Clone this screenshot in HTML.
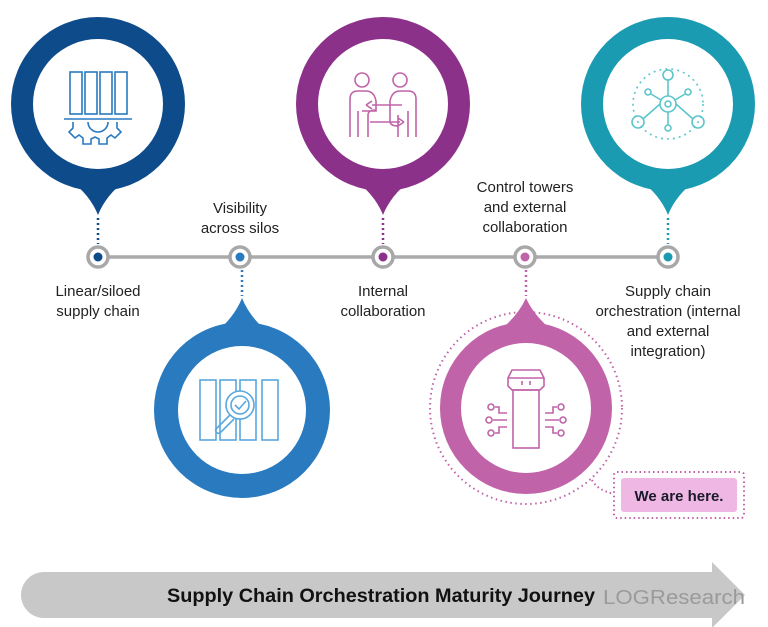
<!DOCTYPE html>
<html><head><meta charset="utf-8"><style>
html,body{margin:0;padding:0;background:#fff;}
svg{display:block;}
text{font-family:"Liberation Sans",sans-serif;}
</style></head><body>
<svg width="768" height="627" viewBox="0 0 768 627" xmlns="http://www.w3.org/2000/svg">

<!-- Pins top -->
<g fill="#0e4b8b"><circle cx="98" cy="104" r="87"/><path d="M70,180 Q90,195 98,215 Q106,195 126,180 Z"/></g>
<circle cx="98" cy="104" r="65" fill="#fff"/>
<g fill="#8c3189"><circle cx="383" cy="104" r="87"/><path d="M355,180 Q375,195 383,215 Q391,195 411,180 Z"/></g>
<circle cx="383" cy="104" r="65" fill="#fff"/>
<g fill="#1a9bb1"><circle cx="668" cy="104" r="87"/><path d="M640,180 Q660,195 668,215 Q676,195 696,180 Z"/></g>
<circle cx="668" cy="104" r="65" fill="#fff"/>

<!-- Pins bottom -->
<g fill="#2a7ac0"><circle cx="242" cy="410" r="88"/><path d="M214,334 Q234,318 242,298 Q250,318 270,334 Z"/></g>
<circle cx="242" cy="410" r="64" fill="#fff"/>
<circle cx="526" cy="408" r="96" fill="none" stroke="#c063a8" stroke-width="2" stroke-dasharray="1.5 3.5"/>
<g fill="#c063a8"><circle cx="526" cy="408" r="86"/><path d="M498,332 Q518,316 526,298 Q534,316 554,332 Z"/></g>
<circle cx="526" cy="408" r="65" fill="#fff"/>

<!-- dotted connectors -->
<g stroke-width="2.5" stroke-dasharray="2 3" fill="none">
<line x1="98" y1="218" x2="98" y2="244" stroke="#0e4b8b"/>
<line x1="383" y1="218" x2="383" y2="244" stroke="#8c3189"/>
<line x1="668" y1="218" x2="668" y2="244" stroke="#1a9bb1"/>
<line x1="242" y1="270" x2="242" y2="296" stroke="#2a7ac0"/>
<line x1="526" y1="270" x2="526" y2="296" stroke="#c063a8"/>
</g>

<!-- timeline -->
<line x1="98" y1="257" x2="668" y2="257" stroke="#aaa" stroke-width="3.5"/>
<g fill="#fff" stroke="#a8a8a8" stroke-width="3.5">
<circle cx="98" cy="257" r="10"/><circle cx="240" cy="257" r="10"/><circle cx="383" cy="257" r="10"/><circle cx="525" cy="257" r="10"/><circle cx="668" cy="257" r="10"/>
</g>
<circle cx="98" cy="257" r="4.5" fill="#0e4b8b"/>
<circle cx="240" cy="257" r="4.5" fill="#2a7ac0"/>
<circle cx="383" cy="257" r="4.5" fill="#8c3189"/>
<circle cx="525" cy="257" r="4.5" fill="#c063a8"/>
<circle cx="668" cy="257" r="4.5" fill="#1a9bb1"/>

<!-- labels -->
<g font-size="15" fill="#222" text-anchor="middle">
<text x="98" y="296">Linear/siloed</text><text x="98" y="316">supply chain</text>
<text x="240" y="213">Visibility</text><text x="240" y="233">across silos</text>
<text x="383" y="296">Internal</text><text x="383" y="316">collaboration</text>
<text x="525" y="192">Control towers</text><text x="525" y="212">and external</text><text x="525" y="232">collaboration</text>
<text x="668" y="296">Supply chain</text><text x="668" y="316">orchestration (internal</text><text x="668" y="336">and external</text><text x="668" y="356">integration)</text>
</g>

<!-- icon 1 -->
<g stroke="#2a7ac0" stroke-width="1.6" fill="none">
<rect x="70" y="72" width="12" height="42"/><rect x="85" y="72" width="12" height="42"/><rect x="100" y="72" width="12" height="42"/><rect x="115" y="72" width="12" height="42"/>
<line x1="64" y1="119" x2="132" y2="119"/>
<path d="M73,122 v6 l-4,4 l6,6 l4,-3 l4,3 v6 h8 v-5 l4,-2 l4,2 v5 h8 v-6 l4,-3 l4,3 l6,-6 l-4,-4 v-6"/>
<path d="M88,122 a10,10 0 0 0 20,0"/>
</g>
<!-- icon 2 people -->
<g stroke="#c063a8" stroke-width="1.6" fill="none">
<circle cx="362" cy="80" r="7"/><circle cx="400" cy="80" r="7"/>
<path d="M350,137 v-38 q0,-8 8,-8 h8 q8,0 10,10 v10 h-14 M358,137 v-26 M368,137 v-22 q0,-5 8,-5"/>
<path d="M416,137 v-38 q0,-8 -8,-8 h-8 q-8,0 -10,10 v20 q0,5 8,5 M408,137 v-26 M398,137 v-22"/>
<path d="M372,105 h30 M366,105 l6,-4 M366,105 l6,4 M400,122 h-30 M404,122 l-6,-4 M404,122 l-6,4"/>
</g>
<!-- icon 3 network -->
<g stroke="#5cc6cc" stroke-width="1.6" fill="none">
<circle cx="668" cy="104" r="35" stroke-dasharray="2 4"/>
<circle cx="668" cy="75" r="5"/><circle cx="668" cy="104" r="8"/><circle cx="668" cy="104" r="3"/>
<circle cx="648" cy="92" r="3"/><circle cx="688" cy="92" r="3"/>
<circle cx="638" cy="122" r="6"/><circle cx="698" cy="122" r="6"/><circle cx="668" cy="128" r="3"/>
<path d="M668,80 v16 M660,104 l-17,15 M676,104 l17,15 M668,112 v13 M651,94 l10,6 M685,94 l-10,6"/>
</g>
<!-- icon 4 silos magnifier -->
<g stroke="#5aa7dd" stroke-width="1.6" fill="none">
<rect x="200" y="380" width="16" height="60"/><rect x="220" y="380" width="16" height="60"/><rect x="240" y="380" width="16" height="60"/><rect x="262" y="380" width="16" height="60"/>
<circle cx="240" cy="405" r="14" fill="#fff"/><circle cx="240" cy="405" r="9"/>
<path d="M235,405 l4,4 l7,-8 M230,415 l-14,14 a3,3 0 0 0 4,4 l14,-14"/>
</g>
<!-- icon 5 tower -->
<g stroke="#c063a8" stroke-width="1.6" fill="none">
<path d="M512,370 h28 l4,8 v8 l-4,4 h-28 l-4,-4 v-8 z M508,378 h36 M522,381 v4 M530,381 v4"/>
<rect x="513" y="390" width="26" height="58"/>
<path d="M507,413 h-8 v-6 h-4 M507,420 h-14 M507,427 h-8 v6 h-4 M545,413 h8 v-6 h4 M545,420 h14 M545,427 h8 v6 h4"/>
<circle cx="491" cy="407" r="3"/><circle cx="489" cy="420" r="3"/><circle cx="491" cy="433" r="3"/>
<circle cx="561" cy="407" r="3"/><circle cx="563" cy="420" r="3"/><circle cx="561" cy="433" r="3"/>
</g>

<!-- We are here -->
<path d="M592,480 q5,10 22,14" stroke="#c063a8" stroke-width="2" stroke-dasharray="1.5 3" fill="none"/>
<rect x="614" y="472" width="130" height="46" rx="3" fill="none" stroke="#c063a8" stroke-width="2" stroke-dasharray="1.5 3"/>
<rect x="621" y="478" width="116" height="34" rx="3" fill="#efb7e3"/>
<text x="679" y="501" font-size="15" font-weight="bold" fill="#1a1a2a" text-anchor="middle">We are here.</text>

<!-- bottom arrow -->
<path d="M44,572 H712 V562 L745,595 L712,628 V618 H44 A23,23 0 0 1 44,572 Z" fill="#c8c8c8"/>
<text x="167" y="602" font-size="19" font-weight="bold" fill="#111" textLength="428" lengthAdjust="spacingAndGlyphs">Supply Chain Orchestration Maturity Journey</text>
<text x="603" y="604" font-size="20" fill="#9a9a9a" textLength="142" lengthAdjust="spacingAndGlyphs">LOGResearch</text>
</svg>
</body></html>
